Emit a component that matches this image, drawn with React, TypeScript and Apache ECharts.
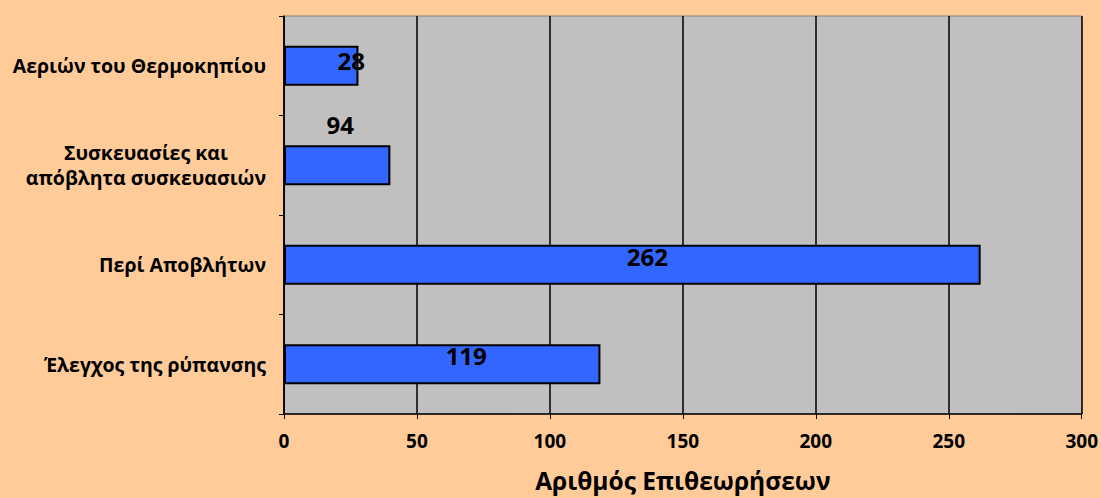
import React, { useEffect, useRef } from "react";
import * as echarts from "echarts";

const categories = [
  "Έλεγχος της ρύπανσης",
  "Περί Αποβλήτων",
  "Συσκευασίες και\nαπόβλητα συσκευασιών",
  "Αεριών του Θερμοκηπίου",
];
const barValues = [119, 262, 40, 28];
const labelTexts = ["119", "262", "94", "28"];
const xTicks = [0, 50, 100, 150, 200, 250, 300];
const axisTitle = "Αριθμός Επιθεωρήσεων";

const labelOffsets: [number, number][] = [
  [24, -9],
  [15, -8],
  [3, -41],
  [30, -5],
];

const FONT = "Open Sans";

export default function App() {
  const ref = useRef<HTMLDivElement>(null);
  useEffect(() => {
    document.body.style.margin = "0";
    const chart = echarts.init(ref.current!, undefined, { renderer: "svg" });
    chart.setOption({
      animation: false,
      backgroundColor: "#FFCC99",
      grid: {
        left: 284,
        right: 19,
        top: 16,
        bottom: 83,
        show: true,
        backgroundColor: "#C0C0C0",
        borderColor: "#808080",
        borderWidth: 1,
      },
      xAxis: {
        type: "value",
        min: xTicks[0],
        max: xTicks[xTicks.length - 1],
        interval: 50,
        axisLine: { show: true, lineStyle: { color: "#000", width: 1.5 } },
        axisTick: { show: true, length: 5, lineStyle: { color: "#000" } },
        splitLine: { show: true, lineStyle: { color: "#000", width: 1.5 } },
        axisLabel: {
          color: "#000",
          fontFamily: FONT,
          fontWeight: "bold",
          fontSize: 19,
          margin: 17,
        },
        name: axisTitle,
        nameLocation: "middle",
        nameGap: 54,
        nameTextStyle: {
          color: "#000",
          fontFamily: FONT,
          fontWeight: "bold",
          fontSize: 24.5,
        },
      },
      yAxis: {
        type: "category",
        data: categories,
        axisLine: { show: true, lineStyle: { color: "#000", width: 1.5 } },
        axisTick: { show: true, length: 5, lineStyle: { color: "#000" } },
        splitLine: { show: false },
        axisLabel: {
          color: "#000",
          fontFamily: FONT,
          fontWeight: "bold",
          fontSize: 19.5,
          margin: 18,
          lineHeight: 25,
          formatter: (v: string) =>
            v
              .split("\n")
              .map((l) => "{a|" + l + "}")
              .join("\n"),
          rich: {
            a: {
              color: "#000",
              fontFamily: FONT,
              fontWeight: "bold",
              fontSize: 19.5,
              lineHeight: 25,
              align: "center",
            },
          },
        },
      },
      series: [
        {
          type: "bar",
          barWidth: "40%",
          itemStyle: { color: "#3366FF", borderColor: "#000", borderWidth: 2 },
          data: barValues.map((v, i) => ({
            value: v,
            label: {
              show: true,
              position: "inside",
              formatter: labelTexts[i],
              offset: labelOffsets[i],
              color: "#000",
              fontFamily: FONT,
              fontWeight: "bold",
              fontSize: 24,
            },
          })),
        },
      ],
    });
    return () => chart.dispose();
  }, []);
  return (
    <div
      ref={ref}
      style={{ position: "absolute", left: 0, top: 0, width: 1101, height: 498 }}
    />
  );
}
